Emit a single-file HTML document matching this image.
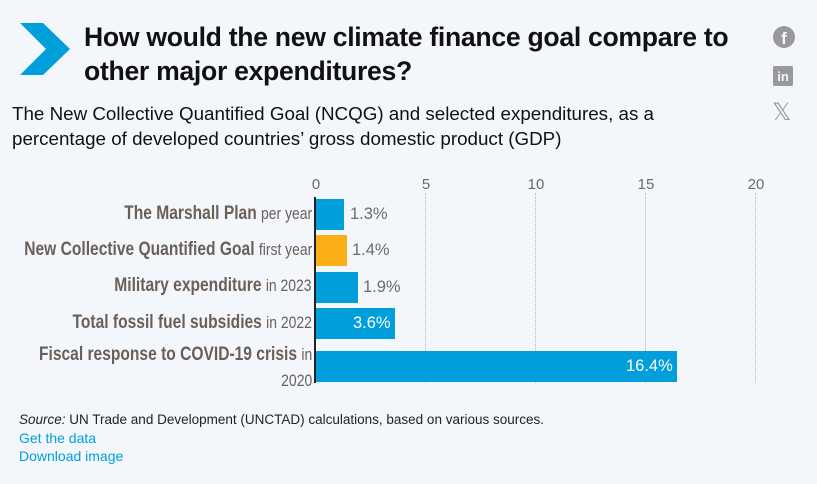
<!DOCTYPE html>
<html><head><meta charset="utf-8"><style>
*{margin:0;padding:0;box-sizing:border-box}
body{width:817px;height:484px;background:#f3f7fc;font-family:"Liberation Sans",sans-serif;position:relative;overflow:hidden}
.a{position:absolute;white-space:nowrap}
.t{font-size:26.6px;font-weight:bold;color:#111;letter-spacing:-0.3px;line-height:34px}
.s{font-size:18.8px;color:#111;line-height:25px}
.lab{color:#6b5f58;font-size:19px;text-align:right;right:505px;transform:scaleX(0.82);transform-origin:right center}
.lab b{font-weight:bold}
.lab span{font-size:17px}
.bar{position:absolute;left:316px;background:#009edb}
.v{font-size:16.5px;color:#6b6b6b}
.tick{font-size:15px;color:#6b6b6b;transform:translateX(-50%)}
.g{position:absolute;top:193px;height:190px;border-left:1.5px dotted #bbb}
.ic{position:absolute;background:#999}
</style></head><body>
<svg class="a" style="left:0;top:0" width="80" height="90"><polygon points="20,23 43,23 70,49 43,75 20,75 46,49" fill="#009edb"/></svg>
<div class="a t" style="left:84px;top:20px">How would the new climate finance goal compare to<br>other major expenditures?</div>
<div class="ic" style="left:773px;top:26px;width:22px;height:22px;border-radius:50%;color:#f3f7fc;font-weight:bold;font-size:17px;text-align:center;line-height:26px">f</div>
<div class="ic" style="left:773px;top:66px;width:20px;height:20px;border-radius:2px;color:#f3f7fc;font-weight:bold;font-size:13px;text-align:center;line-height:21px">in</div>
<div class="a" style="left:772px;top:98px;font-size:24px;color:#999">𝕏</div>
<div class="a s" style="left:12px;top:101px">The New Collective Quantified Goal (NCQG) and selected expenditures, as a<br>percentage of developed countries’ gross domestic product (GDP)</div>
<div class="a tick" style="left:316px;top:176px">0</div>
<div class="a tick" style="left:426px;top:176px">5</div>
<div class="a tick" style="left:536px;top:176px">10</div>
<div class="a tick" style="left:646px;top:176px">15</div>
<div class="a tick" style="left:756px;top:176px">20</div>
<div class="g" style="left:425px"></div><div class="g" style="left:535px"></div><div class="g" style="left:645px"></div><div class="g" style="left:755px"></div>
<div class="a" style="left:314px;top:197px;width:2px;height:186px;background:#222"></div>
<div class="bar" style="top:199px;width:28px;height:31px"></div>
<div class="bar" style="top:235px;width:31px;height:31px;background:#fbaf17"></div>
<div class="bar" style="top:272px;width:42px;height:31px"></div>
<div class="bar" style="top:308px;width:79px;height:31px"></div>
<div class="bar" style="top:351px;width:361px;height:31px"></div>
<div class="a v" style="left:350px;top:205px">1.3%</div>
<div class="a v" style="left:352px;top:241px">1.4%</div>
<div class="a v" style="left:363px;top:278px">1.9%</div>
<div class="a v" style="left:353px;top:314px;color:#fff">3.6%</div>
<div class="a v" style="left:626px;top:357px;color:#fff">16.4%</div>
<div class="a lab" style="top:203px"><b>The Marshall Plan</b> <span>per year</span></div>
<div class="a lab" style="top:239px"><b>New Collective Quantified Goal</b> <span>first year</span></div>
<div class="a lab" style="top:275px"><b>Military expenditure</b> <span>in 2023</span></div>
<div class="a lab" style="top:312px"><b>Total fossil fuel subsidies</b> <span>in 2022</span></div>
<div class="a lab" style="top:342px;line-height:26px"><b>Fiscal response to COVID-19 crisis</b> <span>in</span><br><span>2020</span></div>
<div class="a" style="left:19px;top:412px;font-size:13.5px;color:#222"><i>Source:</i> UN Trade and Development (UNCTAD) calculations, based on various sources.</div>
<div class="a" style="left:19px;top:430px;font-size:14px;color:#009edb">Get the data</div>
<div class="a" style="left:19px;top:448px;font-size:14px;color:#009edb">Download image</div>
</body></html>
